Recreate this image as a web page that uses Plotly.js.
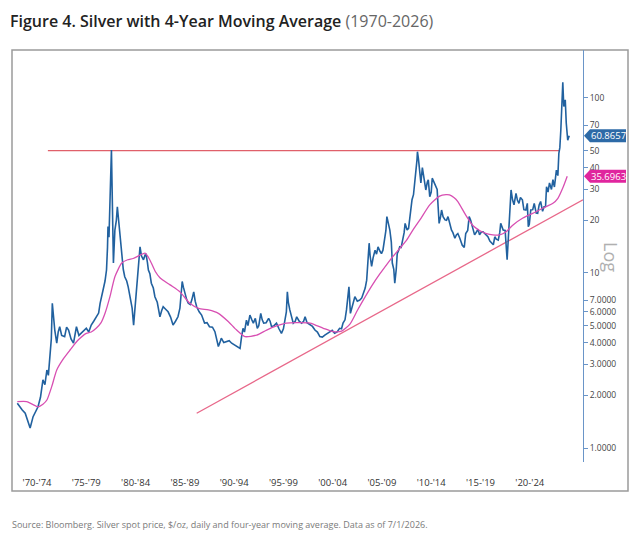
<!DOCTYPE html>
<html>
<head>
<meta charset="utf-8">
<script src="https://cdn.plot.ly/plotly-3.0.1.min.js"></script>
<style>html,body{margin:0;padding:0;background:#fff;}#chart{width:640px;height:533px;}</style>
</head>
<body>
<div id="chart"></div>
<script>
// ---- Data ----
const priceYears = [1970.5,1970.8,1971.0,1971.3,1971.55,1971.8,1972.1,1972.35,1972.6,1972.85,1973.1,1973.3,1973.5,1973.65,1973.8,1973.95,1974.05,1974.15,1974.3,1974.5,1974.65,1974.8,1975.0,1975.3,1975.5,1975.7,1975.95,1976.2,1976.35,1976.5,1976.75,1977.0,1977.25,1977.5,1977.75,1978.0,1978.25,1978.5,1978.75,1978.9,1979.05,1979.2,1979.4,1979.55,1979.65,1979.7,1979.8,1979.9,1980.0,1980.05,1980.1,1980.17,1980.25,1980.4,1980.55,1980.65,1980.75,1980.85,1981.0,1981.1,1981.25,1981.4,1981.6,1981.75,1982.0,1982.15,1982.3,1982.45,1982.6,1982.8,1982.95,1983.1,1983.3,1983.45,1983.55,1983.7,1983.8,1983.95,1984.1,1984.3,1984.46,1984.7,1984.97,1985.15,1985.3,1985.55,1985.8,1986.05,1986.3,1986.55,1986.8,1987.0,1987.23,1987.35,1987.5,1987.7,1987.85,1988.05,1988.2,1988.4,1988.55,1988.7,1988.95,1989.2,1989.5,1989.75,1990.0,1990.3,1990.55,1990.75,1990.9,1991.05,1991.2,1991.45,1991.7,1992.0,1992.25,1992.5,1992.75,1993.0,1993.1,1993.25,1993.4,1993.55,1993.75,1993.9,1994.1,1994.3,1994.45,1994.65,1994.85,1995.0,1995.2,1995.35,1995.5,1995.75,1996.0,1996.15,1996.3,1996.55,1996.8,1997.05,1997.3,1997.5,1997.65,1997.8,1997.9,1998.0,1998.15,1998.3,1998.5,1998.7,1998.85,1999.1,1999.35,1999.55,1999.7,1999.9,2000.2,2000.45,2000.7,2000.95,2001.2,2001.45,2001.7,2001.95,2002.2,2002.45,2002.7,2002.95,2003.2,2003.4,2003.55,2003.75,2003.9,2004.05,2004.15,2004.3,2004.5,2004.75,2005.0,2005.25,2005.45,2005.6,2005.8,2005.95,2006.1,2006.2,2006.3,2006.45,2006.6,2006.8,2006.95,2007.1,2007.3,2007.45,2007.6,2007.8,2007.9,2008.0,2008.15,2008.3,2008.45,2008.55,2008.7,2008.8,2008.95,2009.05,2009.2,2009.3,2009.45,2009.6,2009.75,2009.85,2010.05,2010.2,2010.3,2010.45,2010.55,2010.7,2010.8,2010.95,2011.05,2011.1,2011.2,2011.3,2011.45,2011.6,2011.7,2011.85,2011.95,2012.1,2012.2,2012.35,2012.5,2012.6,2012.8,2012.95,2013.1,2013.2,2013.3,2013.45,2013.55,2013.7,2013.9,2014.05,2014.2,2014.35,2014.55,2014.7,2014.9,2015.05,2015.2,2015.4,2015.65,2015.85,2016.0,2016.2,2016.35,2016.5,2016.7,2016.9,2017.1,2017.25,2017.4,2017.6,2017.75,2018.0,2018.25,2018.45,2018.6,2018.8,2018.95,2019.1,2019.3,2019.45,2019.55,2019.7,2019.8,2020.0,2020.2,2020.3,2020.4,2020.5,2020.6,2020.75,2020.9,2021.1,2021.25,2021.4,2021.55,2021.75,2021.9,2022.1,2022.25,2022.35,2022.45,2022.6,2022.8,2022.95,2023.15,2023.3,2023.45,2023.6,2023.8,2023.95,2024.1,2024.2,2024.35,2024.5,2024.7,2024.85,2025.0,2025.2,2025.35,2025.45,2025.55,2025.65,2025.75,2025.85,2025.95,2026.1,2026.2,2026.35,2026.5];
const priceValues = [1.80,1.70,1.65,1.58,1.45,1.30,1.51,1.62,1.72,1.95,2.45,2.30,2.79,2.60,3.18,4.2,6.71,5.6,4.72,3.97,4.6,4.93,4.4,4.33,4.9,4.72,4.2,3.97,4.5,4.93,4.4,4.52,4.7,4.83,4.6,5.04,5.3,5.62,5.9,6.71,7.2,7.99,9.0,10.4,14,18.4,16,31.1,40,50.4,35.5,20,11.4,17.6,20,23.9,21,18.4,14,12.4,10.5,9.52,9.0,8.33,7.0,6.3,5.04,6.5,8.33,10.5,14.1,12.5,11.9,12.6,12.9,11.5,10.4,9.9,8.74,8.2,7.32,6.8,5.62,6.1,6.41,6.2,6.0,5.6,5.04,5.3,5.62,6.3,8.94,8.3,7.64,7.0,6.71,6.6,7.0,7.8,6.9,6.41,6.0,5.75,5.17,5.2,4.93,4.9,4.62,4.2,3.80,4.0,4.24,4.0,4.05,4.1,3.97,3.9,3.80,3.75,3.71,4.3,4.83,4.6,5.38,5.0,5.75,5.4,5.17,5.5,4.83,5.0,5.88,5.4,5.17,5.2,5.5,5.3,4.93,5.0,5.17,4.8,4.52,4.8,5.38,6.0,7.8,6.8,6.15,5.6,5.17,5.3,5.62,5.3,5.17,5.3,5.62,5.2,5.04,4.95,4.72,4.6,4.33,4.3,4.42,4.5,4.62,4.7,4.52,4.6,4.83,4.8,5.17,5.4,6.15,7.2,8.33,5.88,6.6,7.32,6.9,7.0,7.2,7.64,8.2,9.1,11.5,14.8,12.5,10.9,12.2,13.5,12.8,14.1,13.3,12.9,13.5,16.1,17.5,21.0,19,17.6,15,11.4,10.5,8.74,10.5,12.9,13.5,14.1,14,15.4,17,19.2,17.6,18,20.1,22,26.2,28,31.1,38.7,44,49.3,45,38.7,32.7,40,37.1,32,29.8,33,34.1,27.3,29,34.8,33,31.1,30,23.9,19.2,21,22.9,21,20.1,20,21.0,19.5,17.6,17,15.8,16.5,16.8,15.8,14.4,14,16.8,17.5,21.0,20,18.4,16.5,17.2,17.8,16.5,17.2,17.2,16.6,16.1,15.2,14.8,14.5,16.1,15.6,15.4,17,19.2,17.9,17.6,17.5,11.9,15,18.4,22,29.8,26.2,24.5,28.5,26,25.0,27,26.2,23,22.9,25,18.4,19,22.9,23,25.0,22,21.9,24.5,25.6,22.5,23.9,24,31.1,29,32.7,30,34.1,31,38.7,36,48.3,52,65.6,93.0,123,89.3,97.6,71.9,57.3,60.8657];

const maYears = [1970.5,1971.45,1972.0,1972.6,1973.1,1973.5,1974.0,1974.5,1975.2,1975.85,1976.6,1977.5,1978.0,1978.5,1979.0,1979.4,1979.9,1980.4,1981.1,1981.7,1982.25,1982.9,1983.45,1983.8,1984.1,1984.5,1984.97,1986.0,1987.0,1988.0,1988.9,1989.9,1990.9,1991.9,1992.75,1993.6,1994.8,1995.8,1996.8,1997.8,1998.85,2000.2,2001.55,2002.55,2003.4,2004.25,2005.0,2005.6,2006.5,2007.3,2008.0,2008.6,2009.3,2010.0,2010.7,2011.35,2012.35,2013.35,2014.0,2014.35,2014.8,2015.2,2016.05,2016.75,2017.4,2018.1,2018.75,2019.45,2020.1,2020.8,2021.8,2022.8,2023.85,2024.85,2025.35,2025.9,2026.3];
const maValues = [1.84,1.84,1.78,1.72,1.78,1.88,2.25,2.79,3.25,3.63,4.1,4.52,4.6,4.83,5.2,5.88,7.32,9.52,11.4,11.9,12.1,12.6,13.0,12.3,11.4,10.2,9.4,8.55,7.8,6.71,6.28,6.15,5.88,5.28,4.72,4.33,4.42,4.72,4.98,5.17,5.2,5.17,4.83,4.62,4.65,5.1,6.1,7.0,8.5,9.9,11.2,12.4,13.8,15.4,17.8,20.1,24.5,27.5,28.0,27.9,27.0,25.6,21.2,18.6,17.5,16.8,16.5,16.5,17.2,18.8,20.6,21.9,23.5,25.0,26.7,31.1,35.6963];

const resistanceYears = [1973.6, 2025.55];
const resistanceValues = [50, 50];
const trendYears = [1988.7, 2027.9];
const trendValues = [1.58, 26.2];

const xTickVals = [1972.5,1977.5,1982.5,1987.5,1992.5,1997.5,2002.5,2007.5,2012.5,2017.5,2022.5];
const xTickText = ["'70-'74","'75-'79","'80-'84","'85-'89","'90-'94","'95-'99","'00-'04","'05-'09","'10-'14","'15-'19","'20-'24"];
const yTickVals = [1,2,3,4,5,6,7,10,20,30,40,50,70,100];
const yTickText = ["1.0000","2.0000","3.0000","4.0000","5.0000","6.0000","7.0000","10","20","30","40","50","70","100"];

const lastPrice = 60.8657;
const lastMA = 35.6963;

// ---- Layout geometry ----
const W = 640, H = 533;
const mL = 12, mR = 57, mT = 50, mB = 71;
const plotW = W - mL - mR, plotH = H - mT - mB;
const yRange = [-0.08, 2.274];
const px2x = px => (px - mL) / plotW;
const px2y = py => (H - mB - py) / plotH;
const val2y = v => (Math.log10(v) - yRange[0]) / (yRange[1] - yRange[0]);

function tagPath(v) {
  const yc = val2y(v), hh = 6.5 / plotH;
  const xp = px2x(584), xb = px2x(590), xr = px2x(626);
  return `M ${xp},${yc} L ${xb},${yc + hh} L ${xr},${yc + hh} L ${xr},${yc - hh} L ${xb},${yc - hh} Z`;
}

const traces = [
  {x: resistanceYears, y: resistanceValues, type: 'scatter', mode: 'lines',
   line: {color: '#e0606a', width: 1.3}, hoverinfo: 'skip'},
  {x: trendYears, y: trendValues, type: 'scatter', mode: 'lines',
   line: {color: '#e8688a', width: 1.3}, hoverinfo: 'skip', cliponaxis: false},
  {x: priceYears, y: priceValues, type: 'scatter', mode: 'lines',
   line: {color: '#21619f', width: 1.6}, name: 'Silver'},
  {x: maYears, y: maValues, type: 'scatter', mode: 'lines', line: {color: '#d84fb2', width: 1.3, shape: 'spline', smoothing: 0.6}, name: '4Y MA'}
];

const layout = {
  width: W, height: H,
  margin: {l: mL, r: mR, t: mT, b: mB, pad: 0},
  paper_bgcolor: '#ffffff', plot_bgcolor: '#ffffff',
  showlegend: false,
  font: {family: 'Open Sans, sans-serif', color: '#333'},
  title: {
    text: "Figure 4. Silver with 4-Year Moving Average<span style='font-weight:400;fill:#666'> (1970-2026)</span>",
    font: {family: 'Open Sans, sans-serif', size: 16, color: '#222', weight: 600},
    x: 10 / W, xref: 'container', xanchor: 'left',
    y: 1 - 21 / H, yref: 'container', yanchor: 'middle'
  },
  xaxis: {
    range: [1969.96, 2027.9], showgrid: false, zeroline: false, showline: false,
    tickvals: xTickVals, ticktext: xTickText, ticks: 'outside', ticklen: 12,
    tickcolor: 'rgba(0,0,0,0)', tickfont: {size: 9.5, color: '#333'}, fixedrange: true
  },
  yaxis: {
    type: 'log', range: yRange, side: 'right', showgrid: false, zeroline: false,
    showline: true, linecolor: '#6a95c8', linewidth: 1,
    ticks: 'outside', ticklen: 4, tickcolor: '#6a95c8',
    tickvals: yTickVals, ticktext: yTickText, tickfont: {size: 8.5, color: '#444'}, fixedrange: true
  },
  shapes: [
    {type: 'rect', xref: 'paper', yref: 'paper', x0: px2x(12), x1: px2x(628), y0: px2y(491), y1: px2y(50),
     line: {color: '#9b9b9b', width: 1.5}, fillcolor: 'rgba(0,0,0,0)', layer: 'below'},
    {type: 'path', xref: 'paper', yref: 'paper', path: tagPath(lastPrice), fillcolor: '#2d6aa7', line: {width: 0}, layer: 'above'},
    {type: 'path', xref: 'paper', yref: 'paper', path: tagPath(lastMA), fillcolor: '#e0259e', line: {width: 0}, layer: 'above'}
  ],
  annotations: [
    {xref: 'paper', yref: 'paper', x: px2x(608), y: val2y(lastPrice), text: lastPrice.toFixed(4),
     showarrow: false, font: {size: 9.5, color: '#ffffff'}, xanchor: 'center', yanchor: 'middle'},
    {xref: 'paper', yref: 'paper', x: px2x(608), y: val2y(lastMA), text: lastMA.toFixed(4),
     showarrow: false, font: {size: 9.5, color: '#ffffff'}, xanchor: 'center', yanchor: 'middle'},
    {xref: 'paper', yref: 'paper', x: px2x(611), y: px2y(257), text: 'Log', textangle: 90,
     showarrow: false, font: {size: 18, color: '#b0b0b0'}, xanchor: 'center', yanchor: 'middle'},
    {xref: 'paper', yref: 'paper', x: px2x(10), y: px2y(524),
     text: 'Source: Bloomberg. Silver spot price, $/oz, daily and four-year moving average. Data as of 7/1/2026.',
     showarrow: false, font: {size: 9, color: '#7a7a7a'}, xanchor: 'left', yanchor: 'middle'}
  ]
};

Plotly.newPlot('chart', traces, layout, {displayModeBar: false, staticPlot: true});
</script>
</body>
</html>
